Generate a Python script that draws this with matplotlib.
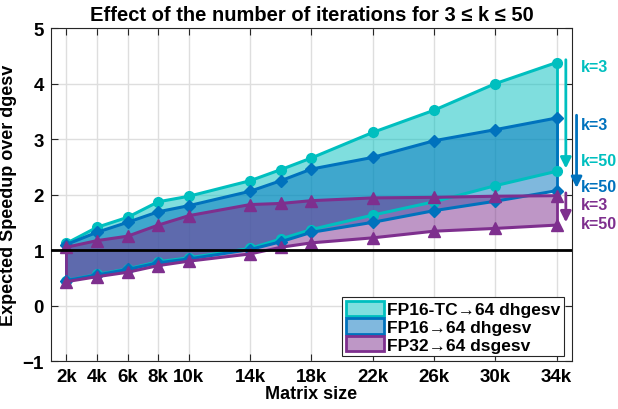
import numpy as np
import matplotlib
matplotlib.use('Agg')
import matplotlib.pyplot as plt
from matplotlib.patches import Patch

plt.rcParams['font.family'] = ['Liberation Sans', 'DejaVu Sans']
plt.rcParams['font.weight'] = 'bold'

# matrix sizes (in thousands)
sizes = [2, 4, 6, 8, 10, 14, 16, 18, 22, 26, 30, 34]
tick_sizes = [2, 4, 6, 8, 10, 14, 18, 22, 26, 30, 34]
tick_labels = ['2k', '4k', '6k', '8k', '10k', '14k', '18k', '22k', '26k', '30k', '34k']

# speedup with k=3 iterations (upper) and k=50 iterations (lower)
tc_k3 = [1.12, 1.41, 1.59, 1.87, 1.97, 2.25, 2.45, 2.66, 3.12, 3.52, 4.00, 4.38]
tc_k50 = [0.45, 0.56, 0.66, 0.79, 0.86, 1.03, 1.20, 1.37, 1.63, 1.87, 2.16, 2.42]
h_k3 = [1.10, 1.32, 1.50, 1.69, 1.80, 2.06, 2.25, 2.46, 2.67, 2.97, 3.17, 3.38]
h_k50 = [0.45, 0.55, 0.65, 0.77, 0.84, 1.01, 1.15, 1.32, 1.50, 1.71, 1.88, 2.07]
s_k3 = [1.05, 1.17, 1.25, 1.45, 1.62, 1.82, 1.84, 1.89, 1.94, 1.95, 1.97, 1.98]
s_k50 = [0.43, 0.52, 0.60, 0.72, 0.80, 0.93, 1.05, 1.13, 1.22, 1.34, 1.39, 1.45]

names = ['FP16-TC\u219264 dhgesv', 'FP16\u219264 dhgesv', 'FP32\u219264 dsgesv']
colors = [(0.0, 0.75, 0.75), (0.0, 0.447, 0.741), (0.494, 0.184, 0.556)]
markers = ['o', 'D', '^']
msizes = [7, 6, 8]

fig = plt.figure(figsize=(6.18, 4.10), dpi=100)
ax = fig.add_axes([0.0825, 0.117, 0.843, 0.812])

series = [(tc_k3, tc_k50), (h_k3, h_k50), (s_k3, s_k50)]
x = np.array(sizes)
for (top, bot), c, m, ms in zip(series, colors, markers, msizes):
    ax.fill_between(x, top, bot, color=c, alpha=0.5, linewidth=0, zorder=2)
    ax.plot([x[0], x[0]], [top[0], bot[0]], color=c, lw=2, zorder=3)
    ax.plot([x[-1], x[-1]], [top[-1], bot[-1]], color=c, lw=2, zorder=3)
    ax.plot(x, top, color=c, lw=2.2, marker=m, ms=ms, zorder=4)
    ax.plot(x, bot, color=c, lw=2.2, marker=m, ms=ms, zorder=4)

ax.axhline(1, color='black', lw=2, zorder=5)

ax.set_xlim(1, 35)
ax.set_ylim(-1, 5)
ax.set_xticks(tick_sizes)
ax.set_xticklabels(tick_labels)
ax.set_yticks(range(-1, 6))
ax.tick_params(direction='in', top=True, right=True, length=5, labelsize=13.5,
               colors='#262626', pad=5)
for lab in ax.get_xticklabels() + ax.get_yticklabels():
    lab.set_color('black')
    lab.set_fontweight('bold')
for sp in ax.spines.values():
    sp.set_color('#262626')
    sp.set_linewidth(0.8)
ax.grid(True, color='#dedede', lw=1, zorder=0)
ax.set_axisbelow(True)

ax.set_xlabel('Matrix size', fontsize=13, fontweight='bold', labelpad=0)
ax.set_ylabel('Expected Speedup over dgesv', fontsize=13, fontweight='bold', labelpad=4)
ax.set_title('Effect of the number of iterations for 3 \u2264 k \u2264 50',
             fontsize=14.5, fontweight='bold', pad=6)

# arrows from k=3 down to k=50 at the largest size
arrow_x = [34.6, 35.3, 34.6]
for (top, bot), c, axx in zip(series, colors, arrow_x):
    ax.annotate('', xy=(axx, bot[-1] + 0.05), xytext=(axx, top[-1] + 0.05),
                annotation_clip=False,
                arrowprops=dict(arrowstyle='-|>', color=c, lw=2,
                                mutation_scale=16, shrinkA=0, shrinkB=0))

label_y = [(4.30, 2.62), (3.27, 2.15), (1.83, 1.47)]
for (y3, y50), c in zip(label_y, colors):
    ax.text(35.6, y3, 'k=3', color=c, fontsize=11.5, fontweight='bold',
            va='center', ha='left', clip_on=False)
    ax.text(35.6, y50, 'k=50', color=c, fontsize=11.5, fontweight='bold',
            va='center', ha='left', clip_on=False)

handles = [Patch(facecolor=tuple(0.5 * v + 0.5 for v in c), edgecolor=c, linewidth=2)
           for c in colors]
leg = ax.legend(handles, names, loc='lower right', bbox_to_anchor=(0.985, 0.015),
                prop={'weight': 'bold', 'size': 12.5}, fancybox=False,
                framealpha=1, edgecolor='#262626', handlelength=2.2, handleheight=1.0,
                labelspacing=0.05, handletextpad=0.2, borderpad=0.2, borderaxespad=0)
leg.get_frame().set_linewidth(0.8)
leg.set_zorder(10)

fig.savefig('out.png', dpi=100)
